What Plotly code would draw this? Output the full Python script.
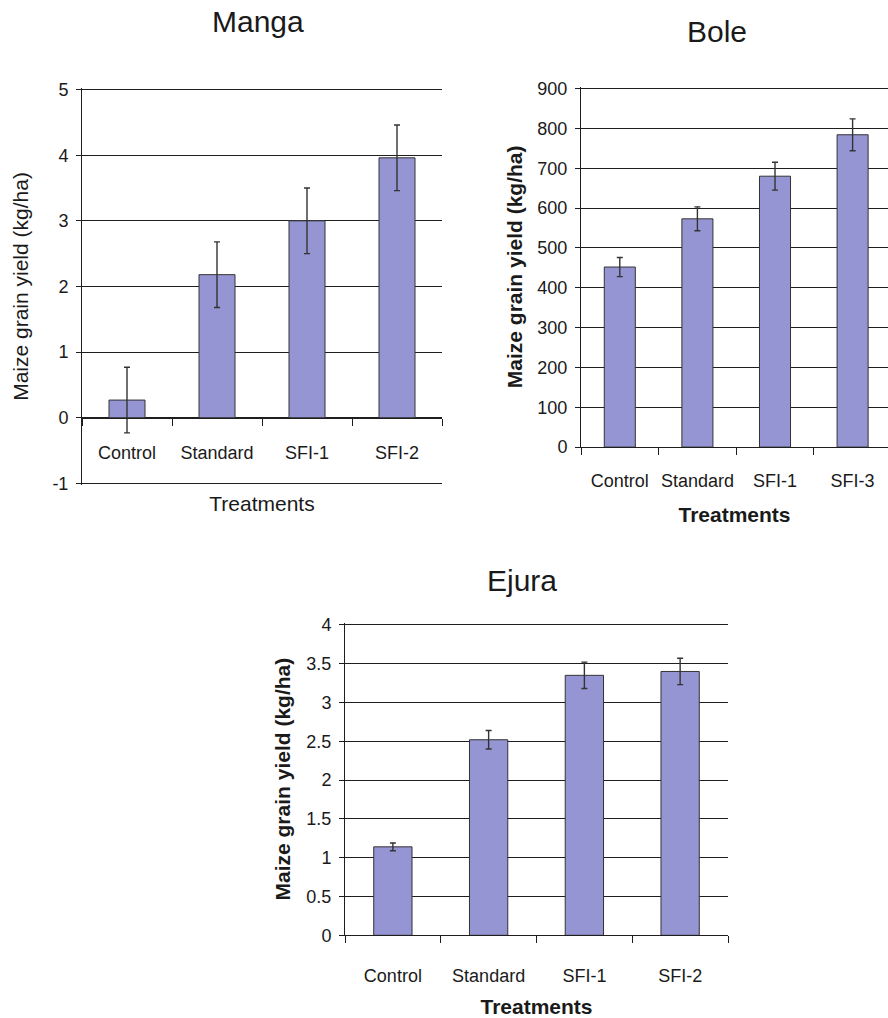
import plotly.graph_objects as go

# ---- data ----
treat_manga = ["Control", "Standard", "SFI-1", "SFI-2"]
yield_manga = [0.27, 2.18, 3.00, 3.96]
err_manga = [0.50, 0.50, 0.50, 0.50]
manga_yticks = [-1, 0, 1, 2, 3, 4, 5]
manga_ylabels = ["-1", "0", "1", "2", "3", "4", "5"]

treat_bole = ["Control", "Standard", "SFI-1", "SFI-3"]
yield_bole = [452, 573, 680, 784]
err_bole = [24, 30, 35, 40]

treat_ejura = ["Control", "Standard", "SFI-1", "SFI-2"]
yield_ejura = [1.14, 2.52, 3.35, 3.40]
err_ejura = [0.05, 0.12, 0.17, 0.17]

panel_titles = ["Manga", "Bole", "Ejura"]
y_title = "Maize grain yield (kg/ha)"
x_title = "Treatments"

W, H = 888, 1018
FONT = "Liberation Sans, Arial, Helvetica, sans-serif"
TXT = "#1a1a1a"
LINE = "#1e1e1e"
BAR = "#9595d3"
PAD = 2  # px of extra room so edge gridlines are drawn


def px_x(p):
    return p / W


def px_y(p):
    return 1 - p / H


def padded(top_px, bot_px, vmin, vmax, pad_top, pad_bot):
    """Return (domain, range) so vmin/vmax land at bot_px/top_px."""
    scale = (vmax - vmin) / (bot_px - top_px)
    top = top_px - (PAD if pad_top else 0)
    bot = bot_px + (PAD if pad_bot else 0)
    rng = [vmin - (PAD * scale if pad_bot else 0), vmax + (PAD * scale if pad_top else 0)]
    return [px_y(bot), px_y(top)], rng


fig = go.Figure()

bar_style = dict(
    marker=dict(color=BAR, line=dict(color="#333333", width=1)),
    width=0.4,
    showlegend=False,
)
err_style = dict(type="data", color="#333333", thickness=1.4, width=3)

fig.add_trace(go.Bar(x=treat_manga, y=yield_manga, xaxis="x", yaxis="y",
                     error_y=dict(array=err_manga, **err_style), **bar_style))
fig.add_trace(go.Bar(x=treat_bole, y=yield_bole, xaxis="x2", yaxis="y2",
                     error_y=dict(array=err_bole, **err_style), **bar_style))
fig.add_trace(go.Bar(x=treat_ejura, y=yield_ejura, xaxis="x3", yaxis="y3",
                     error_y=dict(array=err_ejura, **err_style), **bar_style))

tick_font = dict(family=FONT, size=18, color=TXT)


def yaxis_cfg(domain, rng, dtick, bold, standoff, anchor, **kw):
    cfg = dict(
        domain=domain, range=rng, dtick=dtick, tick0=0, anchor=anchor,
        showgrid=True, gridcolor=LINE, gridwidth=1,
        showline=True, linecolor=LINE, linewidth=1,
        ticks="outside", ticklen=5, tickcolor=LINE, tickwidth=1,
        zeroline=False, tickfont=tick_font, ticklabelstandoff=4,
        title=dict(text=y_title, standoff=standoff,
                   font=dict(family=FONT, size=21, color=TXT,
                             weight="bold" if bold else "normal")),
    )
    cfg.update(kw)
    return cfg


def xaxis_cfg(domain, rng, bold, standoff, label_off, **kw):
    cfg = dict(
        domain=domain, range=rng, type="category", tickangle=0,
        showgrid=False, showline=True, linecolor=LINE, linewidth=1,
        ticks="outside", tickson="boundaries", ticklen=7, tickcolor=LINE,
        tickwidth=1, tickfont=tick_font, ticklabelstandoff=label_off,
        title=dict(text=x_title, standoff=standoff,
                   font=dict(family=FONT, size=21, color=TXT,
                             weight="bold" if bold else "normal")),
    )
    cfg.update(kw)
    return cfg


# Manga panel
m_yd, m_yr = padded(83, 484, -1, 5, True, True)
m_zero = m_yd[0] + (0 - m_yr[0]) / (m_yr[1] - m_yr[0]) * (m_yd[1] - m_yd[0])
fig.update_layout(
    yaxis=yaxis_cfg(m_yd, m_yr, 1, False, 18, "x",
                    tickmode="array", tickvals=manga_yticks, ticktext=manga_ylabels),
    xaxis=xaxis_cfg([px_x(82), px_x(442)], [-0.5, 3.5], False, 33, 19,
                    anchor="free", position=m_zero),
)

# Bole panel (clipped at right edge)
b_yd, b_yr = padded(82, 447, 0, 900, True, False)
fig.update_layout(
    yaxis2=yaxis_cfg(b_yd, b_yr, 100, True, 8, "x2"),
    xaxis2=xaxis_cfg([px_x(581), 1.0], [-0.5, 3.456], True, 17, 17,
                     anchor="y2"),
)

# Ejura panel
e_yd, e_yr = padded(628, 944, 0, 4, True, False)
fig.update_layout(
    yaxis3=yaxis_cfg(e_yd, e_yr, 0.5, True, 10, "x3"),
    xaxis3=xaxis_cfg([px_x(345), px_x(728)], [-0.5, 3.5], True, 16, 24,
                     anchor="y3"),
)

title_pos = [(258, 14), (717, 24), (522, 583)]
for t, (cx, cy) in zip(panel_titles, title_pos):
    fig.add_annotation(text=t, x=px_x(cx), y=px_y(cy), xref="paper", yref="paper",
                       xanchor="center", yanchor="middle", showarrow=False,
                       font=dict(family=FONT, size=30, color=TXT))

fig.update_layout(
    width=W, height=H, margin=dict(l=0, r=0, t=0, b=0),
    paper_bgcolor="white", plot_bgcolor="white",
    font=dict(family=FONT, color=TXT),
    bargap=0.6,
)

fig.write_html("out.html")
